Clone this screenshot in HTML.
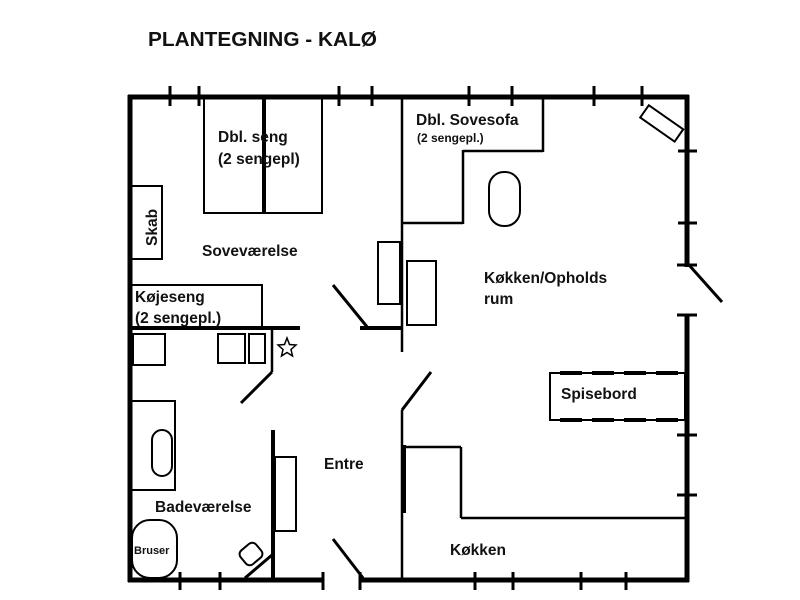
<!DOCTYPE html>
<html><head><style>
html,body{margin:0;padding:0;background:#fff;}
svg{display:block;}
text{font-family:"Liberation Sans",sans-serif;font-weight:bold;fill:#111;}
</style></head><body>
<svg width="800" height="600" viewBox="0 0 800 600" xmlns="http://www.w3.org/2000/svg">
<rect width="800" height="600" fill="#fff"/>
<text x="148" y="46" font-size="20" textLength="229" lengthAdjust="spacingAndGlyphs">PLANTEGNING - KALØ</text>
<g stroke="#000" fill="none" stroke-linecap="butt">
<g stroke-width="5">
<line x1="128" y1="97" x2="689" y2="97"/>
<line x1="130" y1="95" x2="130" y2="582"/>
<line x1="128" y1="580" x2="323" y2="580"/>
<line x1="360" y1="580" x2="689" y2="580"/>
<line x1="687" y1="95" x2="687" y2="267"/>
<line x1="687" y1="315" x2="687" y2="582"/>
</g>
<g stroke-width="3">
<line x1="170" y1="86" x2="170" y2="106"/><line x1="199" y1="86" x2="199" y2="106"/>
<line x1="339" y1="86" x2="339" y2="106"/><line x1="372" y1="86" x2="372" y2="106"/>
<line x1="469" y1="86" x2="469" y2="106"/><line x1="512" y1="86" x2="512" y2="106"/>
<line x1="594" y1="86" x2="594" y2="106"/><line x1="642" y1="86" x2="642" y2="106"/>
<line x1="678" y1="151" x2="697" y2="151"/><line x1="678" y1="223" x2="697" y2="223"/>
<line x1="677" y1="265" x2="697" y2="265"/><line x1="677" y1="315" x2="697" y2="315"/>
<line x1="677" y1="435" x2="697" y2="435"/><line x1="677" y1="495" x2="697" y2="495"/>
<line x1="180" y1="572" x2="180" y2="590"/><line x1="220" y1="572" x2="220" y2="590"/>
<line x1="323" y1="572" x2="323" y2="590"/><line x1="360" y1="572" x2="360" y2="590"/>
<line x1="475" y1="572" x2="475" y2="590"/><line x1="513" y1="572" x2="513" y2="590"/>
<line x1="581" y1="572" x2="581" y2="590"/><line x1="626" y1="572" x2="626" y2="590"/>
</g>
<g stroke-width="3">
<line x1="689" y1="265" x2="722" y2="302"/>
<line x1="333" y1="285" x2="368" y2="328"/>
<line x1="272" y1="372" x2="241" y2="403"/>
<line x1="402" y1="410" x2="431" y2="372"/>
<line x1="333" y1="539" x2="363" y2="578"/>
<line x1="245" y1="578" x2="272" y2="555"/>
</g>
<g stroke-width="2.5">
<line x1="402" y1="97" x2="402" y2="352"/>
<line x1="402" y1="223" x2="463" y2="223"/>
<line x1="463" y1="150" x2="463" y2="224"/>
<line x1="463" y1="151" x2="543" y2="151"/>
<line x1="543" y1="97" x2="543" y2="152"/>
<line x1="272" y1="328" x2="272" y2="372"/>
<line x1="402" y1="410" x2="402" y2="580"/>
<line x1="406" y1="447" x2="461" y2="447"/>
<line x1="461" y1="447" x2="461" y2="518"/>
<line x1="461" y1="518" x2="687" y2="518"/>
</g>
<line x1="130" y1="328" x2="300" y2="328" stroke-width="4"/>
<line x1="360" y1="328" x2="403" y2="328" stroke-width="4"/>
<line x1="273" y1="430" x2="273" y2="580" stroke-width="4"/>
<line x1="404" y1="445" x2="404" y2="513" stroke-width="4"/>
<g stroke-width="2">
<rect x="204" y="97" width="118" height="116"/>
<rect x="130" y="186" width="32" height="73"/>
<rect x="130" y="285" width="132" height="43"/>
<rect x="378" y="242" width="22" height="62"/>
<rect x="407" y="261" width="29" height="64"/>
<rect x="489" y="172" width="31" height="54" rx="15" ry="15"/>
<rect x="133" y="334" width="32" height="31"/>
<rect x="218" y="334" width="27" height="29"/>
<rect x="249" y="334" width="16" height="29"/>
<rect x="130" y="401" width="45" height="89"/>
<rect x="152" y="430" width="20" height="46" rx="10" ry="10"/>
<rect x="132" y="520" width="45" height="58" rx="18" ry="18"/>
<rect x="275" y="457" width="21" height="74"/>
<rect x="241" y="545" width="20" height="18" rx="5" transform="rotate(-40 251 554)"/>
<rect x="641" y="116" width="42" height="15" transform="rotate(35 662 123)"/>
<rect x="550" y="373" width="135" height="47"/>
</g>
<line x1="264" y1="97" x2="264" y2="213" stroke-width="4"/>
<line x1="560" y1="373" x2="685" y2="373" stroke-width="4" stroke-dasharray="22,10"/>
<line x1="560" y1="420" x2="685" y2="420" stroke-width="4" stroke-dasharray="22,10"/>
</g>
<path d="M287 338 L289.5 344.5 L296 345 L291 349.5 L292.5 356 L287 352.5 L281.5 356 L283 349.5 L278 345 L284.5 344.5 Z" fill="none" stroke="#000" stroke-width="1.5"/>
<g font-size="15.5">
<text x="218" y="142">Dbl. seng</text>
<text x="218" y="164">(2 sengepl)</text>
<text x="416" y="125">Dbl. Sovesofa</text>
<text x="417" y="142" font-size="12">(2 sengepl.)</text>
<text x="202" y="256">Soveværelse</text>
<text x="135" y="302">Køjeseng</text>
<text x="135" y="323">(2 sengepl.)</text>
<text x="484" y="283">Køkken/Opholds</text>
<text x="484" y="304">rum</text>
<text x="561" y="399">Spisebord</text>
<text x="324" y="469">Entre</text>
<text x="155" y="512">Badeværelse</text>
<text x="450" y="555">Køkken</text>
<text x="134" y="554" font-size="11">Bruser</text>
<text x="157" y="246" transform="rotate(-90 157 246)">Skab</text>
</g>
</svg>
</body></html>
